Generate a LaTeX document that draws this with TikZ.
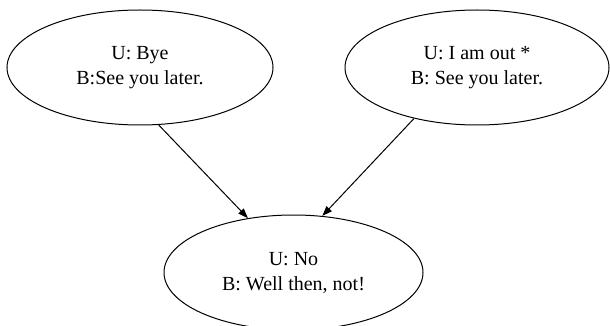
\documentclass[tikz,border=0pt]{standalone}
\usepackage{fontspec}
\setmainfont{Liberation Serif}
\usetikzlibrary{shapes.geometric,arrows.meta}

\begin{document}
\begin{tikzpicture}[x=0.5pt,y=-0.5pt,
  state/.style={draw=black,line width=0.5pt,ellipse,inner sep=0pt,minimum height=57.5pt,align=center,font=\fontsize{10}{12.5}\selectfont},
  edge/.style={draw=black,line width=0.5pt,-{Triangle[length=5pt,width=3.6pt]}}]
\useasboundingbox (0,0) rectangle (610,326);
\draw (140,67.5) node [state,minimum width=133pt] (bye) {U: Bye\\B:See you later.};
\draw (477,67.5) node [state,minimum width=132pt] (out) {U: I am out *\\B: See you later.};
\draw (293.5,272.5) node [state,minimum width=129.5pt] (no) {U: No\\B: Well then, not!};
\draw [edge] (bye.-72) -- (no.130);
\draw [edge] (out.219) -- (no.63);
\end{tikzpicture}
\end{document}
